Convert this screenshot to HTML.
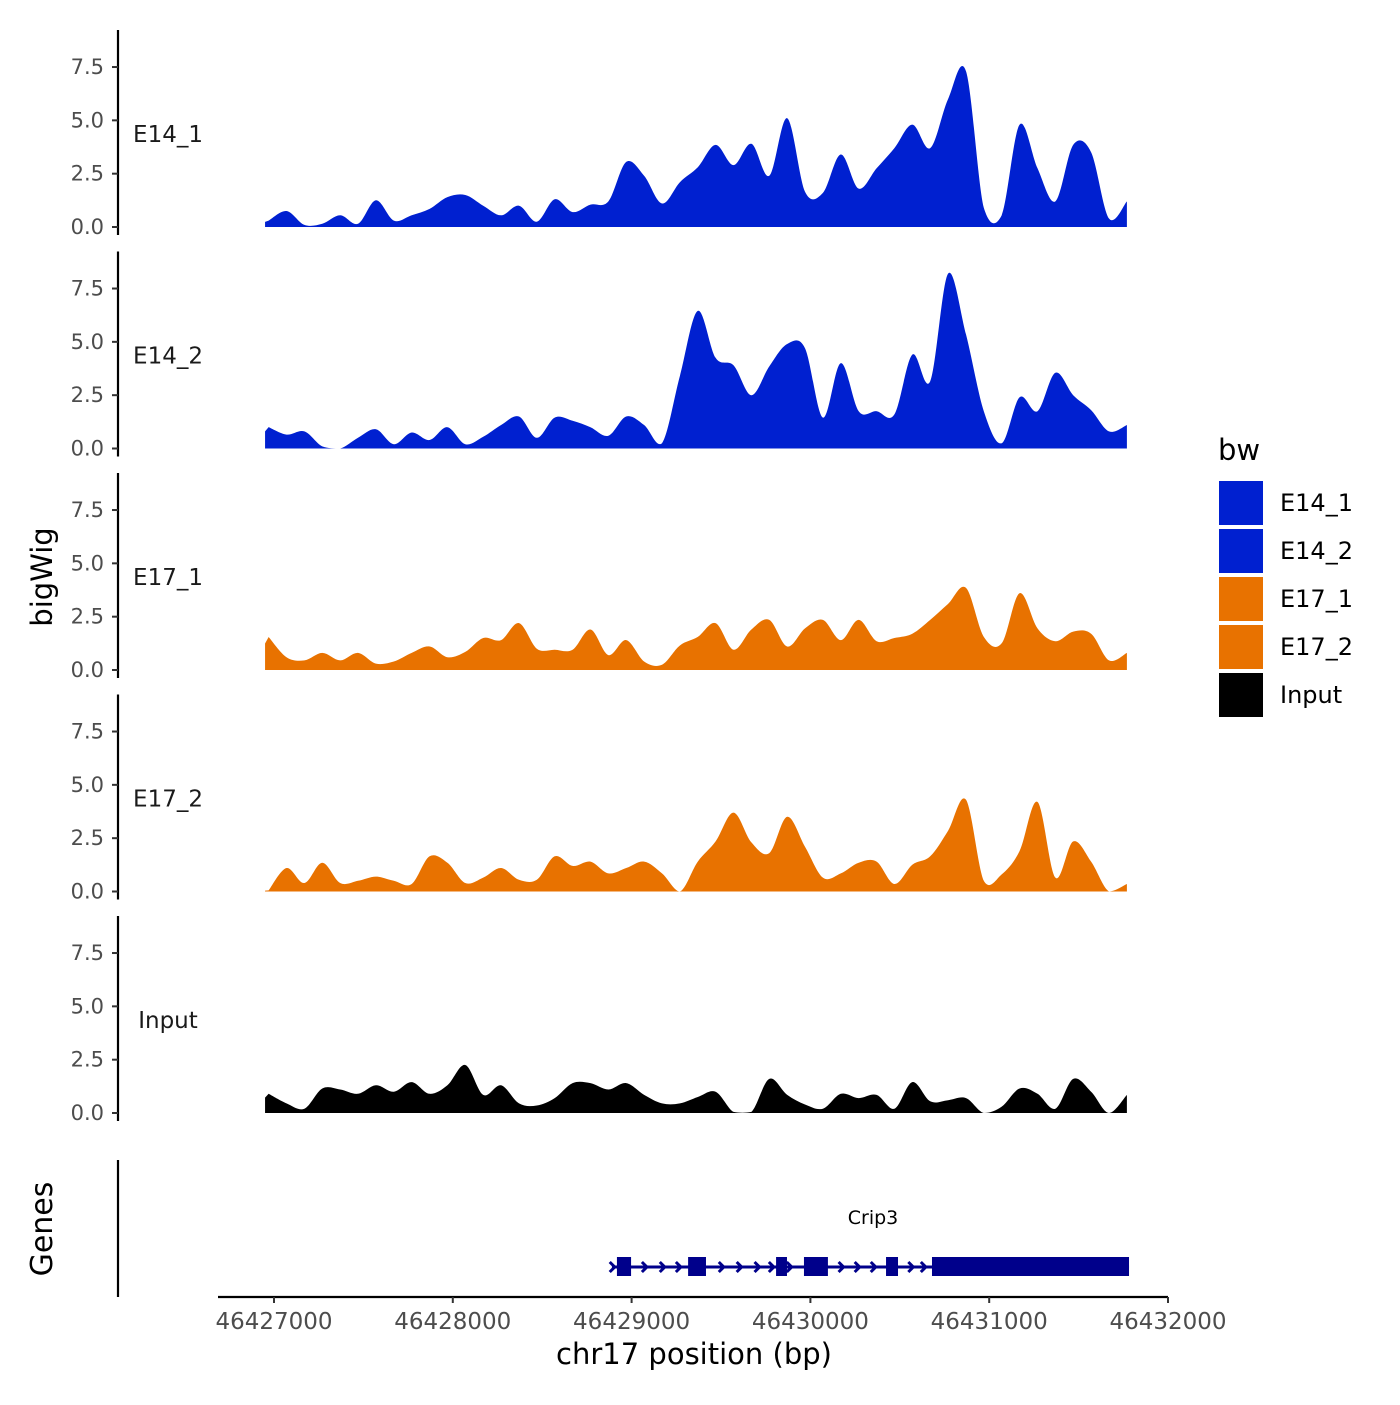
<!DOCTYPE html>
<html><head><meta charset="utf-8"><style>
body{margin:0;background:#fff}
svg text{font-family:"DejaVu Sans","Liberation Sans",sans-serif}
</style></head><body>
<svg id="c" width="1400" height="1400" xmlns="http://www.w3.org/2000/svg"></svg>
<script>
const trackNames = ["E14_1","E14_2","E17_1","E17_2","Input"];
const trackColors = ["#0020d0","#0020d0","#e87200","#e87200","#000000"];
const startBp = 46426970, stepBp = 100;
const e14_1 = [0.3,0.75,0.1,0.15,0.55,0.15,1.25,0.3,0.55,0.85,1.4,1.5,1.0,0.55,1.0,0.25,1.3,0.7,1.05,1.2,3.05,2.4,1.1,2.1,2.8,3.85,2.9,3.9,2.4,5.1,1.65,1.6,3.4,1.8,2.75,3.7,4.8,3.7,6.0,7.3,0.9,0.55,4.8,2.75,1.2,3.85,3.5,0.4,1.2];
const e14_2 = [1.0,0.65,0.8,0.1,0,0.5,0.9,0.2,0.75,0.4,1.0,0.2,0.55,1.1,1.5,0.5,1.45,1.3,1.0,0.6,1.5,1.1,0.25,3.4,6.45,4.25,3.9,2.5,3.85,4.9,4.7,1.45,4.0,1.75,1.75,1.6,4.4,3.15,8.2,5.35,1.75,0.25,2.4,1.75,3.55,2.5,1.8,0.8,1.1];
const e17_1 = [1.55,0.6,0.45,0.8,0.45,0.8,0.3,0.4,0.8,1.1,0.6,0.85,1.5,1.4,2.2,1.0,0.95,0.95,1.9,0.7,1.4,0.4,0.25,1.15,1.55,2.2,0.95,1.9,2.35,1.1,1.95,2.35,1.4,2.35,1.35,1.5,1.7,2.35,3.1,3.85,1.55,1.25,3.6,1.95,1.35,1.8,1.7,0.45,0.8];
const e17_2 = [0.05,1.1,0.4,1.35,0.4,0.5,0.7,0.5,0.35,1.65,1.35,0.4,0.65,1.1,0.55,0.55,1.65,1.2,1.4,0.85,1.1,1.4,0.85,0,1.4,2.35,3.7,2.3,1.8,3.5,2.1,0.65,0.85,1.35,1.4,0.35,1.25,1.65,2.85,4.3,0.5,0.8,1.9,4.2,0.65,2.35,1.4,0,0.35];
const input = [0.9,0.45,0.2,1.15,1.1,0.9,1.3,1.0,1.45,0.9,1.3,2.25,0.85,1.3,0.45,0.35,0.7,1.4,1.4,1.1,1.4,0.85,0.45,0.45,0.75,1.0,0.05,0.05,1.6,0.85,0.4,0.2,0.9,0.7,0.85,0.2,1.45,0.55,0.6,0.7,0,0.3,1.15,0.9,0.2,1.6,1.0,0,0.85];
const series = [e14_1,e14_2,e17_1,e17_2,input];
const yTicks = [0,2.5,5,7.5];
const yTickLabels = ["0.0","2.5","5.0","7.5"];
const xTicks = [46427000,46428000,46429000,46430000,46431000,46432000];
const geneLine = [46428890,46431782];
const exonStarts = [46428918,46429316,46429808,46429964,46430423,46430680];
const exonEnds = [46428997,46429416,46429869,46430098,46430490,46431782];
const arrowBp = [46428900,46429080,46429180,46429270,46429510,46429610,46429710,46429790,46429890,46430180,46430270,46430360,46430570,46430640];

const svg = document.getElementById('c');
const NS = 'http://www.w3.org/2000/svg';
function mk(tag, attrs, parent){const e=document.createElementNS(NS,tag);for(const k in attrs)e.setAttribute(k,attrs[k]);(parent||svg).appendChild(e);return e;}
const xS = bp => 274 + (bp-46427000)*0.1788;
const base0 = 227, panelGap = 221.5, unit = 21.33;
const yS = (p,v) => base0 + p*panelGap - v*unit;

series.forEach((vals,p)=>{
  const g = mk('g',{});
  
  
  const top = 30 + p*panelGap;
  const ax = mk('line',{x1:118,x2:118,y1:top,y2:top+205,stroke:'#000','stroke-width':2.2},g);
  
  
  yTicks.forEach((t,i)=>{
    const y=yS(p,t);
    mk('line',{x1:112,x2:118,y1:y,y2:y,stroke:'#333','stroke-width':2},g);
    const tx=mk('text',{x:104,y:y+7,'text-anchor':'end','font-size':21,fill:'#4d4d4d'},g);
    tx.textContent=yTickLabels[i];
    
    
  });
  const lb=mk('text',{x:168,y:yS(p,0)-85,'text-anchor':'middle','font-size':23,fill:'#1a1a1a'},g);
  lb.textContent=trackNames[p];
  
  
  const pts = vals.map((v,i)=>[xS(startBp+i*stepBp), yS(p,v)]);
  const base = yS(p,0);
  let d='M'+xS(startBp-20)+','+base+' L'+xS(startBp-20)+','+yS(p,vals[0]*0.8)+' L'+pts[0][0]+','+pts[0][1];
  for(let i=0;i<pts.length-1;i++){
    const p0=pts[Math.max(0,i-1)],p1=pts[i],p2=pts[i+1],p3=pts[Math.min(pts.length-1,i+2)];
    const c1x=p1[0]+(p2[0]-p0[0])/6, c1y=Math.min(base,p1[1]+(p2[1]-p0[1])/6);
    const c2x=p2[0]-(p3[0]-p1[0])/6, c2y=Math.min(base,p2[1]-(p3[1]-p1[1])/6);
    d+=' C'+c1x.toFixed(1)+','+c1y.toFixed(1)+' '+c2x.toFixed(1)+','+c2y.toFixed(1)+' '+p2[0].toFixed(1)+','+p2[1].toFixed(1);
  }
  d+=' L'+pts[pts.length-1][0].toFixed(1)+','+base+' Z';
  const a=mk('path',{d:d,fill:trackColors[p]},g);
  
  
});

// genes panel
const gl=mk('line',{x1:118,x2:118,y1:1160,y2:1297,stroke:'#000','stroke-width':2.2});


const gy=1267;
const gline=mk('line',{x1:xS(geneLine[0]),x2:xS(geneLine[1]),y1:gy,y2:gy,stroke:'#00008b','stroke-width':3});


arrowBp.forEach(b=>{
  const x=xS(b);
  const ar=mk('polyline',{points:(x-4)+','+(gy-5)+' '+(x+1)+','+gy+' '+(x-4)+','+(gy+5),fill:'none',stroke:'#00008b','stroke-width':3});
  
  
});
exonStarts.forEach((s,i)=>{
  const r=mk('rect',{x:xS(s),y:gy-10,width:xS(exonEnds[i])-xS(s),height:19,fill:'#00008b'});
  
  
});
const gn=mk('text',{x:873,y:1224,'text-anchor':'middle','font-size':19,fill:'#000'});
gn.textContent='Crip3';



// x axis
const xl=mk('line',{x1:218,x2:1168,y1:1297,y2:1297,stroke:'#000','stroke-width':2.2});


xTicks.forEach(t=>{
  const x=xS(t);
  mk('line',{x1:x,x2:x,y1:1297,y2:1303,stroke:'#333','stroke-width':2});
  const tx=mk('text',{x:x,y:1329,'text-anchor':'middle','font-size':23,fill:'#4d4d4d'});
  tx.textContent=String(t);
  
  
});
const xt=mk('text',{x:694,y:1364,'text-anchor':'middle','font-size':29,fill:'#000'});
xt.textContent='chr17 position (bp)';


const yt=mk('text',{x:52,y:577,'text-anchor':'middle','font-size':29,fill:'#000',transform:'rotate(-90 52 577)'});
yt.textContent='bigWig';


const gt=mk('text',{x:52,y:1229,'text-anchor':'middle','font-size':30,fill:'#000',transform:'rotate(-90 52 1229)'});
gt.textContent='Genes';



// legend
const lt=mk('text',{x:1218,y:460,'font-size':29,fill:'#000'});
lt.textContent='bw';


trackNames.forEach((n,i)=>{
  const y=481+i*48;
  const k=mk('rect',{x:1219,y:y,width:44,height:44,fill:trackColors[i]});
  
  
  const t=mk('text',{x:1280,y:y+30,'font-size':24,fill:'#000'});
  t.textContent=n;
  
  
});
</script>
</body></html>
